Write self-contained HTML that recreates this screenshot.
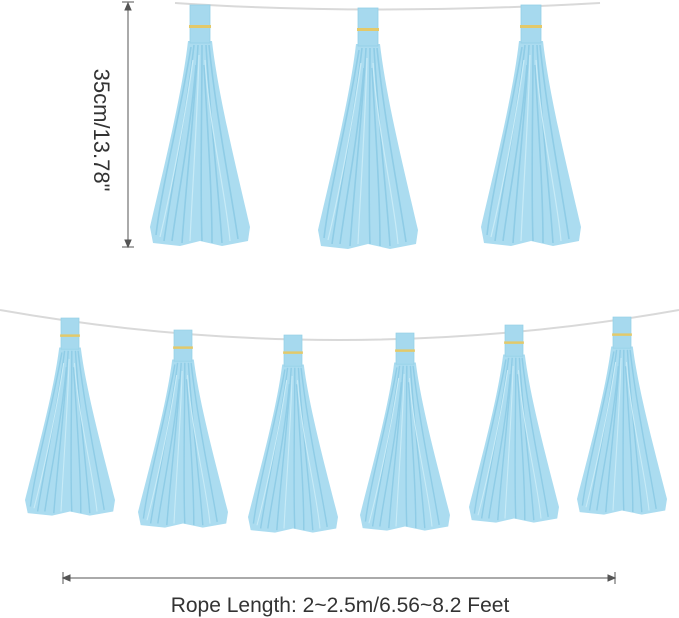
<!DOCTYPE html>
<html><head><meta charset="utf-8"><style>
html,body{margin:0;padding:0;background:#fff;}
svg{display:block;}
</style></head><body>
<svg width="679" height="618" viewBox="0 0 679 618" xmlns="http://www.w3.org/2000/svg">
<defs>
<g id="t">
  <path d="M-12 36 C-18 90,-38 170,-50 222 L-47 238 L-20 241 L0 236 L22 241 L48 236 L50 222 C38 170,18 90,12 36 Z" fill="#abdcf0"/>
  <g stroke="#8ccbe5" stroke-width="1.6" fill="none" opacity="0.9">
    <path d="M-6 40 C-14 110,-28 180,-36 236"/>
    <path d="M-2 40 C-6 110,-14 180,-18 238"/>
    <path d="M2 40 C2 110,0 180,2 236"/>
    <path d="M6 40 C10 110,18 180,22 238"/>
    <path d="M9 40 C16 110,30 180,38 234"/>
    <path d="M-9 42 C-20 110,-38 180,-44 230"/>
    <path d="M-4 60 C-10 130,-22 190,-28 236"/>
    <path d="M4 60 C8 130,12 190,12 238"/>
  </g>
  <g stroke="#c8ebf7" stroke-width="1.2" fill="none">
    <path d="M-1 50 C-3 120,-8 190,-10 236"/>
    <path d="M5 55 C9 120,26 190,30 236"/>
    <path d="M-7 55 C-16 120,-30 190,-40 232"/>
  </g>
  <rect x="-10" y="0" width="20" height="38" fill="#a6d9ee"/>
  <rect x="-10" y="0" width="20" height="38" fill="none" stroke="#93cfe6" stroke-width="0.8"/>
  <rect x="-11" y="20" width="22" height="3" fill="#e3c96a"/>
</g>
</defs>
<path d="M175 3 Q370 16 600 3" stroke="#d9d9d9" stroke-width="2" fill="none"/>
<use href="#t" transform="translate(200,5)"/>
<use href="#t" transform="translate(368,8)"/>
<use href="#t" transform="translate(531,5)"/>
<path d="M0 310 Q340 370 679 310" stroke="#d9d9d9" stroke-width="2" fill="none"/>
<use href="#t" transform="translate(70,318) scale(0.9,0.82)"/>
<use href="#t" transform="translate(183,330) scale(0.9,0.82)"/>
<use href="#t" transform="translate(293,335) scale(0.9,0.82)"/>
<use href="#t" transform="translate(405,333) scale(0.9,0.82)"/>
<use href="#t" transform="translate(514,325) scale(0.9,0.82)"/>
<use href="#t" transform="translate(622,317) scale(0.9,0.82)"/>
<g stroke="#555" stroke-width="1" fill="#555">
  <line x1="128" y1="3" x2="128" y2="247"/>
  <line x1="122" y1="2" x2="134" y2="2"/>
  <line x1="122" y1="247" x2="134" y2="247"/>
  <path d="M128 3 L125 10 L131 10 Z"/>
  <path d="M128 247 L125 240 L131 240 Z"/>
  <line x1="63" y1="578" x2="615" y2="578"/>
  <line x1="63" y1="572" x2="63" y2="584"/>
  <line x1="615" y1="572" x2="615" y2="584"/>
  <path d="M63 578 L70 575 L70 581 Z"/>
  <path d="M615 578 L608 575 L608 581 Z"/>
</g>
<text x="0" y="0" transform="translate(94,130) rotate(90)" text-anchor="middle" font-family="Liberation Sans, sans-serif" font-size="22" fill="#333">35cm/13.78"</text>
<text x="340" y="612" text-anchor="middle" font-family="Liberation Sans, sans-serif" font-size="21" fill="#333">Rope Length: 2~2.5m/6.56~8.2 Feet</text>
</svg>
</body></html>
